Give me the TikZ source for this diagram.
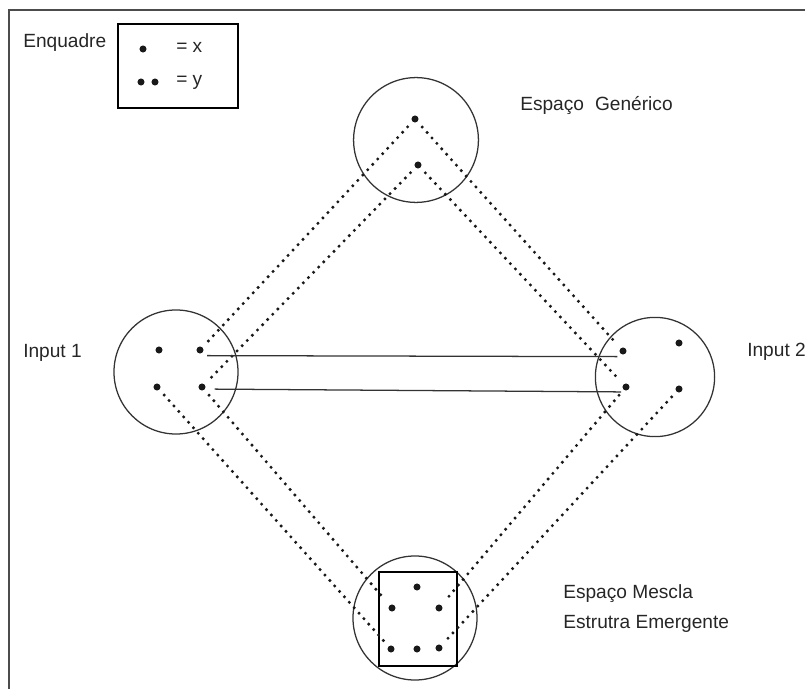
\documentclass[tikz,border=0pt]{standalone}
\usepackage{fontspec}
\setmainfont{Liberation Sans}
\begin{document}
\begin{tikzpicture}[x=0.025cm,y=-0.025cm,
	region/.style={draw=black!80,circle,line width=0.9pt,inner sep=0pt},
	pnt/.style={fill=black!90,circle,inner sep=0pt,minimum size=5pt},
	link/.style={draw=black!90,line width=2.4pt,line cap=round,dash pattern=on 0pt off 5.2pt,shorten <=5pt,shorten >=5pt},
	bridge/.style={draw=black!80,line width=0.9pt},
	lbl/.style={font=\fontsize{13.6}{21.3}\selectfont,text=black!85,inner sep=0pt,align=left}]
	\useasboundingbox (0,0) rectangle (805,689);
	
	% keret
	\draw[black!70,line width=1.4pt] (9,689) -- (9,10) -- (805,10);
	
	% legenda
	\node[lbl,anchor=west] (enq) at (23,43) {Enquadre};
	\node[draw,line width=0.9pt,minimum width=3cm,minimum height=2.1cm] (legenda) at (178,66) {};
	\node[pnt] (x1) at (143,49) {};
	\node[pnt] (y1) at (141,82) {};
	\node[pnt] (y2) at (155,82) {};
	\node[lbl,anchor=west] (lx) at (176,47) {= x};
	\node[lbl,anchor=west] (ly) at (176,82) {= y};
	
	% nagy korok
	\node[region,minimum size=3.12cm] (generico) at (416,140) {};
	\node[region,minimum size=3.1cm] (input1) at (176,372) {};
	\node[region,minimum size=2.98cm] (input2) at (655,377) {};
	\node[region,minimum size=3.1cm] (mescla) at (415,618) {};
	\node[draw,line width=0.9pt,minimum width=1.95cm,minimum height=2.35cm] (quadro) at (418,619) {};
	
	% feliratok
	\node[lbl,anchor=west] at (520,105) {Espaço\hspace{0.3em} Genérico};
	\node[lbl,anchor=west] at (23,353) {Input 1};
	\node[lbl,anchor=west] at (747,352) {Input 2};
	\node[lbl,anchor=west] at (563,609) {Espaço Mescla\\Estrutra Emergente};
	
	% pontok
	\node[pnt] (g1) at (415,119) {};
	\node[pnt] (g2) at (418,165) {};
	\node[pnt] (a1) at (159,350) {};
	\node[pnt] (a2) at (200,350) {};
	\node[pnt] (a3) at (157,387) {};
	\node[pnt] (a4) at (202,387) {};
	\node[pnt] (b1) at (623,351) {};
	\node[pnt] (b2) at (679,343) {};
	\node[pnt] (b3) at (626,387) {};
	\node[pnt] (b4) at (679,389) {};
	\node[pnt] (m1) at (417,587) {};
	\node[pnt] (m2) at (392,608) {};
	\node[pnt] (m3) at (439,608) {};
	\node[pnt] (m4) at (391,649) {};
	\node[pnt] (m5) at (417,649) {};
	\node[pnt] (m6) at (439,648) {};
	
	% pontozott vonalak
	\draw[link] (g1) -- (a2);
	\draw[link] (g2) -- (a4);
	\draw[link] (g1) -- (b1);
	\draw[link] (g2) -- (b3);
	\draw[link] (a4) -- (m2);
	\draw[link] (a3) -- (m4);
	\draw[link] (b3) -- (m3);
	\draw[link] (b4) -- (m6);
	
	% vizszintes vonalak
	\draw[bridge] ([shift={(5pt,-4pt)}]a2.center) -- ([shift={(-4pt,-4pt)}]b1.center);
	\draw[bridge] ([shift={(9pt,-1.5pt)}]a4.center) -- ([shift={(-3.5pt,-3.5pt)}]b3.center);
\end{tikzpicture}
\end{document}
